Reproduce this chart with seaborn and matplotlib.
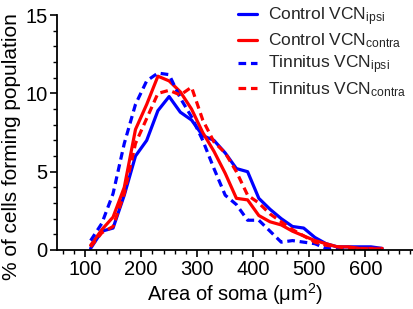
import numpy as np
import pandas as pd
import matplotlib
matplotlib.use("Agg")
import matplotlib.pyplot as plt
import seaborn as sns

area = [110, 130, 150, 170, 190, 210, 230, 250, 270, 290, 310, 330, 350, 370,
        390, 410, 430, 450, 470, 490, 510, 530, 550, 570, 590, 610, 630]

control_ipsi = [0.1, 1.2, 1.4, 3.5, 6.0, 7.0, 8.9, 9.8, 8.8, 8.3, 7.3, 7.0, 6.2, 5.2,
                5.0, 3.3, 2.6, 2.0, 1.5, 1.4, 0.8, 0.4, 0.2, 0.2, 0.2, 0.2, 0.1]
control_contra = [0.3, 1.3, 2.1, 4.0, 7.7, 9.3, 11.1, 10.8, 10.1, 9.0, 7.5, 6.3, 4.9, 3.3,
                  3.2, 2.2, 1.8, 1.6, 1.2, 0.9, 0.6, 0.4, 0.2, 0.2, 0.1, 0.1, 0.1]
tinnitus_ipsi = [0.6, 1.7, 3.6, 6.8, 9.3, 10.8, 11.3, 11.2, 9.7, 8.5, 7.0, 5.2, 3.5, 2.9,
                 1.9, 1.9, 1.2, 0.5, 0.6, 0.5, 0.4, 0.1, 0.05, 0.05, 0.05, 0.05, 0.05]
tinnitus_contra = [0.2, 1.1, 1.5, 3.6, 6.8, 8.4, 10.0, 10.2, 9.9, 10.4, 8.3, 6.9, 6.2, 5.0,
                   3.5, 3.0, 2.3, 1.8, 1.3, 0.9, 0.5, 0.3, 0.2, 0.1, 0.1, 0.05, 0.05]

labels = ["Control VCN$_{ipsi}$", "Control VCN$_{contra}$",
          "Tinnitus VCN$_{ipsi}$", "Tinnitus VCN$_{contra}$"]
series = [control_ipsi, control_contra, tinnitus_ipsi, tinnitus_contra]
colors = ["#0000ff", "#ff0000", "#0000ff", "#ff0000"]
dashed = [False, False, True, True]

sns.set_theme(style="ticks")
plt.rcParams["font.family"] = ["Liberation Sans", "DejaVu Sans"]
plt.rcParams["mathtext.default"] = "regular"

fig = plt.figure(figsize=(4.13, 3.09), dpi=100)
ax = fig.add_axes([0.138, 0.191, 0.862, 0.760])

for lab, vals, col, dsh in zip(labels, series, colors, dashed):
    df = pd.DataFrame({"area": area, "pct": vals})
    sns.lineplot(data=df, x="area", y="pct", ax=ax, color=col, lw=2.3, label=lab,
                 linestyle=(0, (2.4, 1.5)) if dsh else "-")

ax.set_xlim(50, 685)
ax.set_ylim(0, 15)
ax.set_xticks([100, 200, 300, 400, 500, 600])
ax.set_xticks(np.arange(60, 690, 20), minor=True)
ax.set_yticks([0, 5, 10, 15])
ax.set_yticks(np.arange(0, 16, 1), minor=True)
ax.tick_params(which="major", length=5, width=1.2, labelsize=14.5, color="black",
               labelcolor="black", pad=2)
ax.tick_params(which="minor", length=3, width=1.0, color="black")
for s in ["top", "right"]:
    ax.spines[s].set_visible(False)
for s in ["left", "bottom"]:
    ax.spines[s].set_linewidth(1.3)
    ax.spines[s].set_color("black")

ax.set_xlabel("Area of soma (μm$^2$)", fontsize=14.5, color="black", labelpad=2)
ax.set_ylabel("% of cells forming population", fontsize=15, color="black")
ax.yaxis.set_label_coords(-0.1, 0.44)

ax.legend(loc="upper right", frameon=False, fontsize=12.5, handlelength=1.1,
          handletextpad=0.6, labelspacing=0.2, borderaxespad=0.0,
          bbox_to_anchor=(1.0, 1.07))

fig.savefig("out.png", dpi=100)
